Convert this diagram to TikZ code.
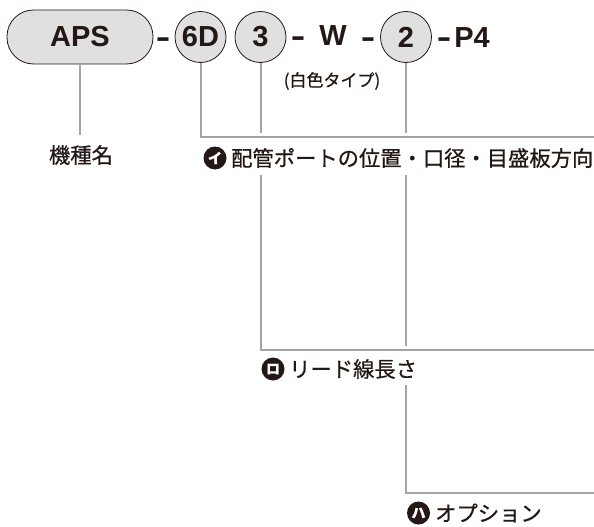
\documentclass[tikz,border=0pt]{standalone}
\usepackage{fontspec}
\setmainfont{Liberation Sans}
\newfontfamily\cjk[FakeBold=0.7]{Noto Sans CJK JP}
\definecolor{ink}{HTML}{231815}
\definecolor{fillg}{HTML}{E0E0E0}
\definecolor{lineg}{HTML}{A3A3A3}
\newcommand{\codedash}{\scalebox{1.5}[1.05]{-}}
\begin{document}
\begin{tikzpicture}[x=1pt,y=-1pt,
 code/.style={font=\fontsize{29}{30}\selectfont\bfseries, text=ink, inner sep=0pt},
 pill/.style={draw=ink, line width=0.8pt, fill=fillg, rounded corners=26.5pt, minimum width=146pt, minimum height=54pt, inner sep=0pt},
 bubble/.style={circle, draw=ink, line width=0.8pt, fill=fillg, minimum size=51pt, inner sep=0pt},
 lbl/.style={font=\cjk\fontsize{21.3}{22}\selectfont, text=ink, inner sep=0pt, anchor=west},
 icon/.style={circle, fill=ink, minimum size=23pt, inner sep=0pt, text=white, font=\cjk\bfseries\fontsize{14}{14}\selectfont},
 conn/.style={draw=lineg, line width=2pt}]
\useasboundingbox (0,0) rectangle (594,527);
% code line
\node[pill, code] (aps) at (80,37) {APS};
\node[code, anchor=base] (d1) at (163,48) {\codedash};
\node[bubble, code] (b6d) at (200.5,37) {6D};
\node[bubble, code] (b3) at (260.5,37) {3};
\node[code, anchor=base] (d2) at (298,47) {\codedash};
\node[code, anchor=base] (w) at (333,46) {W};
\node[code, anchor=base] (d3) at (368,48) {\codedash};
\node[bubble, code] (b2) at (406,37) {2};
\node[code, anchor=base] (d4) at (444,48) {\codedash};
\node[code, anchor=base] (p4) at (472,48) {P4};
\node[font=\cjk\fontsize{17}{18}\selectfont, text=ink, inner sep=0pt] (white) at (332,81) {(白色タイプ)};
% labels
\node[lbl, anchor=center] (kishu) at (81,155) {機種名};
\node[icon] (i1) at (215,158) {イ};
\node[lbl] (l1) at (231,158) {配管ポートの位置・口径・目盛板方向};
\node[icon] (i2) at (273,369) {ロ};
\node[lbl] (l2) at (289,369) {リード線長さ};
\node[icon] (i3) at (418.5,513) {ハ};
\node[lbl] (l3) at (435,513) {オプション};
% connector ends
\coordinate (k1) at (80,135);
\coordinate (r1) at (594,137);
\coordinate (j3a) at (260.5,133);
\coordinate (j2a) at (406,133);
\coordinate (s3) at (260.5,175);
\coordinate (r2) at (594,350);
\coordinate (s2) at (406,175);
\coordinate (e2) at (406,346);
\coordinate (s2b) at (406,385);
\coordinate (r3) at (594,493);
% connectors
\draw[conn] (aps.south) -- (k1);
\draw[conn] (b6d.south) |- (r1);
\draw[conn] (b3.south) -- (j3a);
\draw[conn] (b2.south) -- (j2a);
\draw[conn] (s3) |- (r2);
\draw[conn] (s2) -- (e2);
\draw[conn] (s2b) |- (r3);
\end{tikzpicture}
\end{document}
